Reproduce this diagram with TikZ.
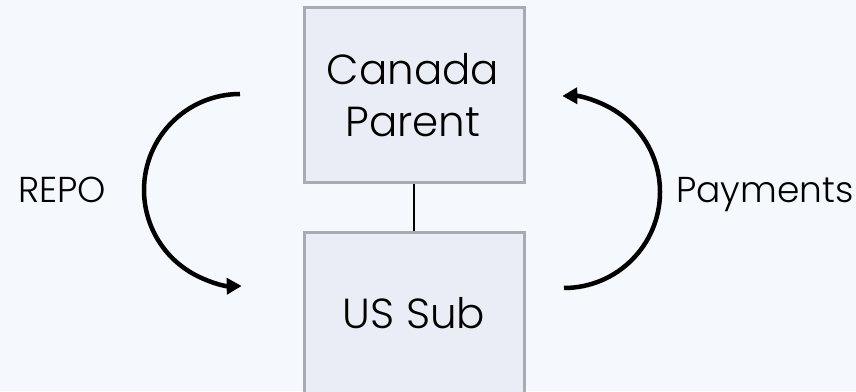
\documentclass[tikz,border=0pt]{standalone}
\usepackage{fontspec}
\setmainfont{Poppins}[UprightFont=* Light]
\usetikzlibrary{arrows.meta}
\definecolor{bgcol}{HTML}{F5F8FD}
\definecolor{boxfill}{HTML}{EAEDF6}
\definecolor{boxline}{HTML}{A8ABB3}
\tikzset{
  entity/.style={draw=boxline, fill=boxfill, line width=3pt, minimum width=220pt, inner sep=0pt},
  label/.style={font=\fontsize{36}{40}\selectfont, text=black, inner sep=0pt, anchor=base},
  boxtext/.style={font=\fontsize{42}{48}\selectfont, text=black, inner sep=0pt, anchor=base},
  flow/.style={line width=4.5pt, -{Triangle[length=15pt,width=16pt]}}
}
\begin{document}
\begin{tikzpicture}[x=1pt,y=1pt]
  \fill[bgcol] (0,0) rectangle (856,391);
  \useasboundingbox (0,0) rectangle (856,391);
  \begin{scope}
    \clip (0,0) rectangle (856,391);
    % entity boxes
    \node[entity, minimum height=175pt] (parent) at (414,295.5) {};
    \node[entity, minimum height=178pt] (sub) at (414,69) {};
    \draw[line width=1.4pt] (parent.south) -- (sub.north);
  \end{scope}
  % box texts
  \node[boxtext] (t1) at (413,306) {Canada};
  \node[boxtext] (t2) at (413,254) {Parent};
  \node[boxtext] (t3) at (414,63) {US Sub};
  % side labels
  \node[label] (repo) at (62,188) {REPO};
  \node[label] (pay) at (765,188) {Payments};
  % flows
  \coordinate (ls) at (240,297);
  \coordinate (rs) at (564,103);
  \draw[flow] (ls) arc[start angle=90, end angle=271, radius=96];
  \draw[flow] (rs) arc[start angle=-90, end angle=91, radius=96];
\end{tikzpicture}
\end{document}
